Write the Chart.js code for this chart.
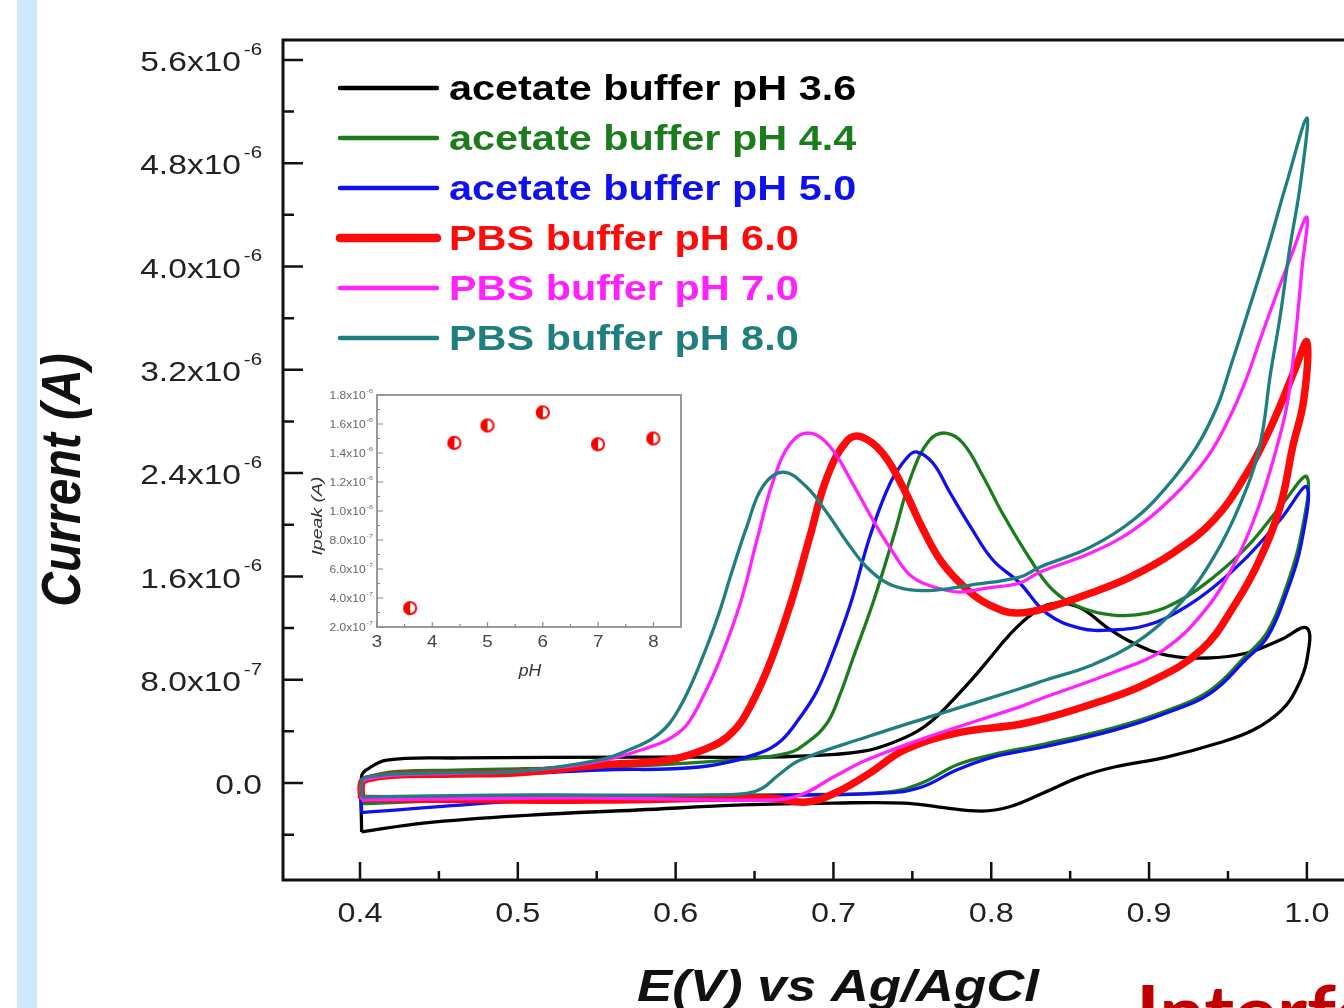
<!DOCTYPE html>
<html>
<head>
<meta charset="utf-8">
<script src="https://cdn.jsdelivr.net/npm/chart.js@4"></script>
<style>
  html, body { margin: 0; padding: 0; background: #fff; }
  body { width: 1344px; height: 1008px; overflow: hidden; position: relative; }
  #stripe { position: absolute; left: 17px; top: 0; width: 20px; height: 1008px; background: #cde9fb; }
  #cv { position: absolute; left: 0; top: 0; }
  #inset { position: absolute; left: 290px; top: 380px; }
  #stray { position: absolute; left: 1136px; top: 974px; font: bold 72px Lato, "Noto Sans", sans-serif;
           color: #c00000; line-height: 72px; white-space: nowrap; transform: scaleX(1.12); transform-origin: left top; }
</style>
</head>
<body>
<div id="stripe"></div>
<canvas id="cv" width="1400" height="1008"></canvas>
<canvas id="inset" width="400" height="310"></canvas>
<div id="stray">Interference</div>
<script>
// potential E (V vs Ag/AgCl) and current (in 1e-6 A), forward scan then reverse
const blackE = [0.401, 0.401, 0.404, 0.417, 0.463, 0.576, 0.658, 0.701, 0.721, 0.737, 0.753, 0.765, 0.777, 0.789, 0.800, 0.811, 0.825, 0.839, 0.856, 0.873, 0.890, 0.911, 0.937, 0.962, 0.983, 1.000, 1.000, 0.994, 0.984, 0.966, 0.944, 0.911, 0.878, 0.856, 0.833, 0.811, 0.794, 0.767, 0.745, 0.701, 0.643, 0.576, 0.508, 0.440, 0.401];
const blackI = [-0.379, 0.05, 0.101, 0.178, 0.194, 0.201, 0.201, 0.222, 0.25, 0.31, 0.40, 0.51, 0.66, 0.82, 0.98, 1.14, 1.30, 1.39, 1.36, 1.208, 1.084, 0.991, 0.968, 1.007, 1.107, 1.200, 0.953, 0.743, 0.565, 0.410, 0.310, 0.201, 0.124, 0.046, -0.077, -0.186, -0.217, -0.186, -0.155, -0.155, -0.170, -0.209, -0.248, -0.310, -0.379];

const greenE = [0.401, 0.401, 0.406, 0.424, 0.46, 0.50, 0.552, 0.636, 0.671, 0.684, 0.696, 0.704, 0.712, 0.725, 0.738, 0.750, 0.761, 0.771, 0.782, 0.795, 0.807, 0.825, 0.839, 0.856, 0.877, 0.899, 0.920, 0.941, 0.962, 0.983, 1.000, 0.996, 0.987, 0.975, 0.961, 0.939, 0.911, 0.878, 0.833, 0.801, 0.778, 0.756, 0.734, 0.679, 0.552, 0.508, 0.404, 0.401];
const greenI = [-0.16, 0.0, 0.05, 0.09, 0.10, 0.11, 0.12, 0.178, 0.232, 0.32, 0.465, 0.68, 0.953, 1.394, 1.905, 2.401, 2.656, 2.710, 2.633, 2.370, 2.091, 1.727, 1.495, 1.363, 1.301, 1.316, 1.417, 1.595, 1.828, 2.137, 2.370, 1.90, 1.52, 1.17, 0.98, 0.72, 0.56, 0.43, 0.30, 0.22, 0.14, 0.0, -0.07, -0.09, -0.10, -0.11, -0.16, -0.16];

const blueE = [0.401, 0.401, 0.404, 0.42, 0.46, 0.50, 0.552, 0.615, 0.653, 0.667, 0.679, 0.689, 0.698, 0.711, 0.723, 0.736, 0.747, 0.753, 0.763, 0.774, 0.787, 0.801, 0.818, 0.835, 0.856, 0.877, 0.899, 0.920, 0.941, 0.962, 0.983, 1.000, 0.996, 0.987, 0.975, 0.961, 0.939, 0.911, 0.878, 0.833, 0.801, 0.778, 0.756, 0.734, 0.679, 0.552, 0.508, 0.404, 0.401];
const blueI = [-0.23, 0.0, 0.03, 0.05, 0.06, 0.07, 0.101, 0.124, 0.232, 0.33, 0.511, 0.70, 0.953, 1.394, 1.905, 2.323, 2.525, 2.563, 2.478, 2.246, 1.982, 1.727, 1.549, 1.316, 1.200, 1.185, 1.224, 1.340, 1.518, 1.750, 2.037, 2.292, 1.828, 1.471, 1.131, 0.953, 0.697, 0.542, 0.410, 0.279, 0.201, 0.101, -0.031, -0.077, -0.093, -0.108, -0.132, -0.225, -0.23];

const redE = [0.401, 0.401, 0.404, 0.42, 0.46, 0.50, 0.552, 0.595, 0.622, 0.633, 0.643, 0.658, 0.673, 0.685, 0.696, 0.709, 0.718, 0.731, 0.744, 0.757, 0.769, 0.785, 0.799, 0.816, 0.837, 0.863, 0.888, 0.915, 0.941, 0.962, 0.975, 0.985, 0.993, 1.000, 0.998, 0.991, 0.983, 0.970, 0.955, 0.933, 0.899, 0.866, 0.822, 0.778, 0.745, 0.723, 0.701, 0.683, 0.658, 0.552, 0.485, 0.404, 0.401];
const redI = [-0.12, 0.0, 0.03, 0.06, 0.07, 0.08, 0.139, 0.178, 0.279, 0.36, 0.50, 0.875, 1.394, 1.905, 2.370, 2.656, 2.679, 2.556, 2.292, 1.959, 1.704, 1.495, 1.378, 1.316, 1.363, 1.471, 1.595, 1.781, 2.037, 2.40, 2.70, 2.98, 3.22, 3.415, 2.966, 2.602, 2.137, 1.727, 1.394, 1.030, 0.774, 0.620, 0.465, 0.387, 0.256, 0.077, -0.077, -0.147, -0.116, -0.132, -0.13, -0.12, -0.12];

const magentaE = [0.401, 0.401, 0.404, 0.42, 0.46, 0.50, 0.552, 0.584, 0.597, 0.607, 0.617, 0.628, 0.641, 0.652, 0.662, 0.673, 0.685, 0.698, 0.712, 0.725, 0.738, 0.750, 0.766, 0.780, 0.797, 0.818, 0.831, 0.863, 0.890, 0.915, 0.937, 0.951, 0.961, 0.970, 0.980, 0.990, 1.000, 0.997, 0.993, 0.988, 0.981, 0.968, 0.953, 0.934, 0.909, 0.878, 0.833, 0.818, 0.763, 0.721, 0.700, 0.679, 0.658, 0.552, 0.485, 0.404, 0.401];
const magentaI = [-0.13, 0.0, 0.03, 0.06, 0.075, 0.09, 0.17, 0.28, 0.35, 0.45, 0.66, 0.953, 1.394, 1.905, 2.346, 2.633, 2.710, 2.602, 2.323, 2.037, 1.781, 1.595, 1.510, 1.479, 1.510, 1.549, 1.634, 1.781, 1.959, 2.215, 2.525, 2.83, 3.11, 3.42, 3.76, 4.08, 4.383, 3.996, 3.485, 2.966, 2.602, 2.091, 1.673, 1.316, 1.030, 0.860, 0.66, 0.59, 0.37, 0.178, 0.046, -0.093, -0.132, -0.116, -0.12, -0.13, -0.13];

const tealE = [0.401, 0.401, 0.404, 0.42, 0.46, 0.50, 0.552, 0.573, 0.586, 0.596, 0.605, 0.614, 0.626, 0.636, 0.645, 0.655, 0.668, 0.683, 0.696, 0.709, 0.721, 0.734, 0.749, 0.766, 0.787, 0.818, 0.831, 0.863, 0.890, 0.911, 0.930, 0.943, 0.951, 0.962, 0.975, 0.987, 1.000, 0.996, 0.989, 0.983, 0.977, 0.970, 0.958, 0.941, 0.920, 0.894, 0.863, 0.835, 0.818, 0.763, 0.721, 0.679, 0.665, 0.655, 0.645, 0.615, 0.552, 0.485, 0.404, 0.401];
const tealI = [-0.108, 0.02, 0.045, 0.07, 0.08, 0.09, 0.18, 0.27, 0.35, 0.46, 0.64, 0.88, 1.262, 1.649, 1.982, 2.292, 2.408, 2.292, 2.091, 1.859, 1.673, 1.549, 1.495, 1.495, 1.533, 1.595, 1.673, 1.828, 2.037, 2.292, 2.602, 2.912, 3.20, 3.62, 4.13, 4.64, 5.150, 4.646, 4.128, 3.609, 3.175, 2.602, 2.168, 1.750, 1.394, 1.107, 0.910, 0.80, 0.73, 0.52, 0.356, 0.178, 0.06, -0.04, -0.08, -0.093, -0.093, -0.093, -0.108, -0.108];

const seriesLabels = ["acetate buffer pH 3.6", "acetate buffer pH 4.4", "acetate buffer pH 5.0",
                      "PBS buffer pH 6.0", "PBS buffer pH 7.0", "PBS buffer pH 8.0"];

// axis ticks (current in 1e-6 A)
const xTicks = [0.4, 0.5, 0.6, 0.7, 0.8, 0.9, 1.0];
const xTickLabels = ["0.4", "0.5", "0.6", "0.7", "0.8", "0.9", "1.0"];
const xMinorTicks = [0.45, 0.55, 0.65, 0.75, 0.85, 0.95];
const yTicks = [0, 0.8, 1.6, 2.4, 3.2, 4.0, 4.8, 5.6];
const yTickLabels = ["0.0", "8.0x10^-7", "1.6x10^-6", "2.4x10^-6", "3.2x10^-6", "4.0x10^-6", "4.8x10^-6", "5.6x10^-6"];
const yMinorTicks = [-0.4, 0.4, 1.2, 2.0, 2.8, 3.6, 4.4, 5.2];

// inset: peak current vs pH
const insetPH = [3.6, 4.4, 5.0, 6.0, 7.0, 8.0];
const insetIpeak = [0.33, 1.47, 1.59, 1.68, 1.46, 1.50];
const insetXTicks = [3, 4, 5, 6, 7, 8];
const insetXMinor = [3.5, 4.5, 5.5, 6.5, 7.5];
const insetYTicks = [0.2, 0.4, 0.6, 0.8, 1.0, 1.2, 1.4, 1.6, 1.8];
const insetYTickLabels = ["2.0x10^-7", "4.0x10^-7", "6.0x10^-7", "8.0x10^-7", "1.0x10^-6", "1.2x10^-6", "1.4x10^-6", "1.6x10^-6", "1.8x10^-6"];
const insetYMinor = [0.3, 0.5, 0.7, 0.9, 1.1, 1.3, 1.5, 1.7];

const SANS = '"Liberation Sans", Arial, sans-serif';
const colors = ["#000000", "#1c7c1c", "#1010ee", "#ff0a0a", "#ff22ff", "#1f7f7f"];
const widths = [3.3, 3.3, 3.3, 7.5, 3.3, 3.3];

function stretchText(ctx, text, x, y, o) {
  ctx.save();
  ctx.font = o.font;
  ctx.fillStyle = o.color || "#222";
  ctx.textAlign = o.align || "left";
  ctx.textBaseline = o.baseline || "alphabetic";
  ctx.translate(x, y);
  if (o.rotate) ctx.rotate(o.rotate);
  ctx.scale(o.sx || 1, o.sy || 1);
  ctx.fillText(text, 0, 0);
  ctx.restore();
}

// label like "1.6x10^-6" drawn with a raised exponent, right edge at x
function powerLabel(ctx, label, x, y, size, color) {
  const parts = label.split("^");
  let ew = 0;
  if (parts[1]) {
    ctx.font = `${Math.round(size * 0.6)}px ${SANS}`;
    ew = ctx.measureText(parts[1]).width * 1.2;
    stretchText(ctx, parts[1], x - ew, y - size * 0.18, { font: ctx.font, color, sx: 1.2 });
  }
  stretchText(ctx, parts[0], x - ew - (ew ? size * 0.1 : 0), y + size * 0.4,
    { font: `${size}px ${SANS}`, color, align: "right", sx: 1.2 });
}

const cvAxes = {
  id: "cvAxes",
  afterDatasetsDraw(chart) {
    const { ctx, chartArea: a, scales: { x, y } } = chart;
    ctx.save();
    ctx.strokeStyle = "#111";
    ctx.lineWidth = 3;
    ctx.strokeRect(a.left, a.top, a.right - a.left, a.bottom - a.top);
    ctx.lineWidth = 2.5;
    ctx.beginPath();
    yTicks.forEach((v) => { const p = y.getPixelForValue(v); ctx.moveTo(a.left, p); ctx.lineTo(a.left + 20, p); });
    yMinorTicks.forEach((v) => { const p = y.getPixelForValue(v); ctx.moveTo(a.left, p); ctx.lineTo(a.left + 11, p); });
    xTicks.forEach((v) => { const p = x.getPixelForValue(v); ctx.moveTo(p, a.bottom); ctx.lineTo(p, a.bottom - 18); });
    xMinorTicks.forEach((v) => { const p = x.getPixelForValue(v); ctx.moveTo(p, a.bottom); ctx.lineTo(p, a.bottom - 9); });
    ctx.stroke();
    ctx.restore();
  },
  afterDraw(chart) {
    const { ctx, chartArea: a, scales: { x, y } } = chart;
    yTicks.forEach((v, i) => powerLabel(ctx, yTickLabels[i], 262, y.getPixelForValue(v), 28, "#222"));
    xTicks.forEach((v, i) => stretchText(ctx, xTickLabels[i], x.getPixelForValue(v), a.bottom + 42,
      { font: `27px ${SANS}`, align: "center", sx: 1.2 }));
    stretchText(ctx, "Current (A)", 80, 480,
      { font: `italic bold 48px ${SANS}`, color: "#111", align: "center", rotate: -Math.PI / 2, sy: 1.15 });
    stretchText(ctx, "E(V) vs Ag/AgCl", 838, 1001,
      { font: `italic bold 44px ${SANS}`, color: "#111", align: "center", sx: 1.2 });
    // legend
    chart.data.datasets.forEach((ds, i) => {
      const ry = 88 + i * 50;
      ctx.save();
      ctx.strokeStyle = ds.borderColor;
      ctx.lineWidth = ds.borderWidth + 1.2;
      ctx.lineCap = "round";
      ctx.beginPath();
      ctx.moveTo(340, ry);
      ctx.lineTo(437, ry);
      ctx.stroke();
      ctx.restore();
      stretchText(ctx, ds.label, 449, ry + 12, { font: `bold 34.5px ${SANS}`, color: ds.borderColor, sx: 1.2 });
    });
  },
};

const loops = [[blackE, blackI], [greenE, greenI], [blueE, blueI], [redE, redI], [magentaE, magentaI], [tealE, tealI]];

new Chart(document.getElementById("cv"), {
  type: "scatter",
  data: {
    datasets: loops.map(([E, I], i) => ({
      label: seriesLabels[i],
      data: E.map((e, k) => ({ x: e, y: I[k] })),
      showLine: true,
      borderColor: colors[i],
      borderWidth: widths[i],
      pointRadius: 0,
      tension: 0.4,
      fill: false,
      order: 5 - i,
    })),
  },
  options: {
    responsive: false,
    devicePixelRatio: 1,
    animation: false,
    layout: { padding: { left: 283, right: 30, top: 40, bottom: 128 } },
    plugins: { legend: { display: false }, tooltip: { enabled: false } },
    scales: {
      x: { type: "linear", min: 0.3512, max: 1.04, display: false },
      y: { type: "linear", min: -0.751, max: 5.754, display: false },
    },
  },
  plugins: [cvAxes],
});

function halfCircle(r) {
  const c = document.createElement("canvas");
  c.width = c.height = 2 * r + 4;
  const g = c.getContext("2d");
  const m = r + 2;
  g.fillStyle = "#fff";
  g.beginPath(); g.arc(m, m, r, 0, 2 * Math.PI); g.fill();
  g.fillStyle = "#f00";
  g.beginPath(); g.arc(m, m, r, Math.PI / 2, 1.5 * Math.PI); g.closePath(); g.fill();
  g.strokeStyle = "#f00"; g.lineWidth = 2;
  g.beginPath(); g.arc(m, m, r - 1, 0, 2 * Math.PI); g.stroke();
  return c;
}

const insetAxes = {
  id: "insetAxes",
  beforeDatasetsDraw(chart) {
    const { ctx, chartArea: a, scales: { x, y } } = chart;
    ctx.save();
    ctx.strokeStyle = "#9a9a9a";
    ctx.lineWidth = 2;
    ctx.strokeRect(a.left, a.top, a.right - a.left, a.bottom - a.top);
    ctx.lineWidth = 1.2;
    ctx.strokeStyle = "#888";
    ctx.beginPath();
    insetYTicks.forEach((v) => { const p = y.getPixelForValue(v); ctx.moveTo(a.left, p); ctx.lineTo(a.left + 6, p); });
    insetYMinor.forEach((v) => { const p = y.getPixelForValue(v); ctx.moveTo(a.left, p); ctx.lineTo(a.left + 3, p); });
    insetXTicks.forEach((v) => { const p = x.getPixelForValue(v); ctx.moveTo(p, a.bottom); ctx.lineTo(p, a.bottom - 5); });
    insetXMinor.forEach((v) => { const p = x.getPixelForValue(v); ctx.moveTo(p, a.bottom); ctx.lineTo(p, a.bottom - 3); });
    ctx.stroke();
    ctx.restore();
    insetYTicks.forEach((v, i) => powerLabel(ctx, insetYTickLabels[i], 83, y.getPixelForValue(v), 10, "#666"));
    insetXTicks.forEach((v) => stretchText(ctx, String(v), x.getPixelForValue(v), a.bottom + 20,
      { font: `17px ${SANS}`, color: "#444", align: "center", sx: 1.1 }));
    stretchText(ctx, "pH", 240, 296, { font: `italic 16px ${SANS}`, color: "#333", align: "center", sx: 1.1 });
    stretchText(ctx, "Ipeak (A)", 32, 136,
      { font: `italic 15px ${SANS}`, color: "#333", align: "center", rotate: -Math.PI / 2, sx: 1.3 });
  },
};

new Chart(document.getElementById("inset"), {
  type: "scatter",
  data: {
    datasets: [{
      data: insetPH.map((p, i) => ({ x: p, y: insetIpeak[i] })),
      pointStyle: halfCircle(7),
      pointRadius: 8,
    }],
  },
  options: {
    responsive: false,
    devicePixelRatio: 1,
    animation: false,
    layout: { padding: { left: 87, right: 9, top: 15, bottom: 63 } },
    plugins: { legend: { display: false }, tooltip: { enabled: false } },
    scales: {
      x: { type: "linear", min: 3, max: 8.5, display: false },
      y: { type: "linear", min: 0.2, max: 1.8, display: false },
    },
  },
  plugins: [insetAxes],
});
</script>
</body>
</html>
